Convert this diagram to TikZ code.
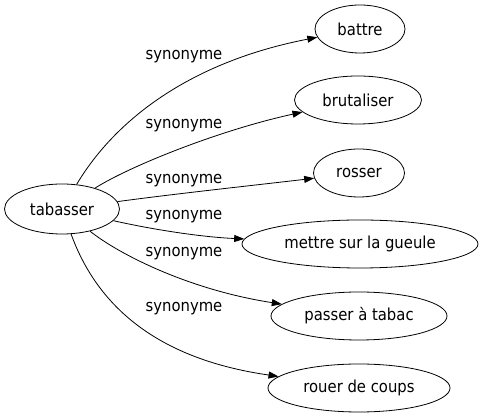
\documentclass[tikz,border=0pt]{standalone}
\usepackage{fontspec}
\setmainfont{DejaVu Sans Condensed}
\usetikzlibrary{shapes.geometric,arrows.meta}

\tikzstyle{word} = [draw=black, line width=0.8pt, ellipse, inner sep=1pt,
    minimum height=48pt, font=\fontsize{16.5}{19}\selectfont]
\tikzstyle{rel} = [font=\fontsize{16.5}{19}\selectfont, inner sep=0pt]
\tikzstyle{link} = [draw=black, line width=0.8pt, -{Triangle[length=10pt,width=7pt]}]

\begin{document}
\begin{tikzpicture}[x=1pt, y=1pt]
\useasboundingbox (0,0) rectangle (481,419);
\node [word, minimum width=115pt, minimum height=50pt] (tabasser) at (62,210) {tabasser};
\node [word, minimum width=90pt] (battre) at (360,390) {battre};
\node [word, minimum width=127pt] (brutaliser) at (358,319) {brutaliser};
\node [word, minimum width=91pt] (rosser) at (359,246) {rosser};
\node [word, minimum width=236pt] (mettre) at (360,175) {mettre sur la gueule};
\node [word, minimum width=176pt] (passer) at (359,103) {passer à tabac};
\node [word, minimum width=182pt] (rouer) at (359,31) {rouer de coups};

% edges
\draw [link] (tabasser) .. controls (115,299) and (190,357) .. (battre);
\draw [link] (tabasser) .. controls (130,253) and (220,289) .. (brutaliser);
\draw [link] (tabasser) .. controls (182,226) and (248,233) .. (rosser);
\draw [link] (tabasser) .. controls (150,190) and (200,182) .. (mettre);
\draw [link] (tabasser) .. controls (120,164) and (190,129) .. (passer);
\draw [link] (tabasser) .. controls (95,119) and (150,61) .. (rouer);

% labels
\node [rel] (l1) at (184,362) {synonyme};
\node [rel] (l2) at (184,293) {synonyme};
\node [rel] (l3) at (184,238) {synonyme};
\node [rel] (l4) at (184,202) {synonyme};
\node [rel] (l5) at (184,165) {synonyme};
\node [rel] (l6) at (184,110) {synonyme};
\end{tikzpicture}
\end{document}
